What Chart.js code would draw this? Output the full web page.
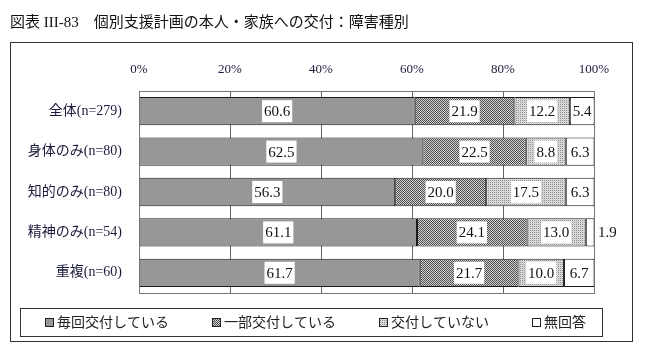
<!DOCTYPE html>
<html lang="ja">
<head>
<meta charset="utf-8">
<title>図表 III-83</title>
<script src="https://cdn.jsdelivr.net/npm/chart.js@4/dist/chart.umd.min.js"></script>
<style>
    body { margin: 0; background: #fff; }
    #wrap { position: relative; width: 647px; height: 353px; }
    #title {
        position: absolute; left: 10px; top: 10px;
        font: 15px "Liberation Serif", "Noto Sans CJK JP", serif;
        color: #111; white-space: pre;
    }
</style>
</head>
<body>
<div id="wrap">
    <canvas id="chart"></canvas>
    <div id="title">図表 III-83　個別支援計画の本人・家族への交付：障害種別</div>
</div>
<script>
const categories = ['全体(n=279)', '身体のみ(n=80)', '知的のみ(n=80)', '精神のみ(n=54)', '重複(n=60)'];
const seriesNames = ['毎回交付している', '一部交付している', '交付していない', '無回答'];
const everyTime = [60.6, 62.5, 56.3, 61.1, 61.7];
const partly = [21.9, 22.5, 20.0, 24.1, 21.7];
const notGiven = [12.2, 8.8, 17.5, 13.0, 10.0];
const noAnswer = [5.4, 6.3, 6.3, 1.9, 6.7];
const tickValues = [0, 20, 40, 60, 80, 100];

const serifFont = '"Liberation Serif", "Noto Sans CJK JP", serif';

// small stipple patterns like the original print fills
function makePattern(cells) {
    const n = cells.length;
    const c = document.createElement('canvas');
    c.width = n; c.height = n;
    const g = c.getContext('2d');
    for (let y = 0; y < n; y++) {
        for (let x = 0; x < n; x++) {
            g.fillStyle = cells[y][x];
            g.fillRect(x, y, 1, 1);
        }
    }
    return g.createPattern(c, 'repeat');
}

const checkerFill = makePattern([['#4e4e4e', '#d2d2d2'], ['#d2d2d2', '#4e4e4e']]);
const dotFill = makePattern([['#8e8e8e', '#dedede'], ['#dedede', '#d0d0d0']]);

// number labels on each segment, white box behind
const segmentLabels = {
    id: 'segmentLabels',
    afterDatasetsDraw(chart) {
        const ctx = chart.ctx;
        ctx.save();
        ctx.font = '15px ' + serifFont;
        ctx.textAlign = 'center';
        ctx.textBaseline = 'middle';
        chart.data.datasets.forEach((ds, i) => {
            chart.getDatasetMeta(i).data.forEach((bar, j) => {
                const txt = ds.data[j].toFixed(1);
                const w = ctx.measureText(txt).width;
                let cx = (bar.x + bar.base) / 2;
                if (Math.abs(bar.x - bar.base) < w + 4) {
                    cx = Math.min(bar.x, chart.chartArea.right) + 4 + w / 2;
                }
                ctx.fillStyle = '#fff';
                ctx.fillRect(cx - w / 2 - 2, bar.y - 11, w + 4, 22);
                ctx.fillStyle = '#111';
                ctx.fillText(txt, cx, bar.y + 1);
            });
        });
        ctx.restore();
    }
};

// outer frame, plot frame and boxed legend
const frames = {
    id: 'frames',
    beforeDraw(chart) {
        const ctx = chart.ctx;
        ctx.save();
        ctx.fillStyle = '#fff';
        ctx.fillRect(0, 0, chart.width, chart.height);
        ctx.strokeStyle = '#333';
        ctx.lineWidth = 1;
        ctx.strokeRect(10.5, 42.5, 622, 299);
        ctx.restore();
    },
    afterDatasetsDraw(chart) {
        const a = chart.chartArea;
        const ctx = chart.ctx;
        ctx.save();
        ctx.strokeStyle = '#777';
        ctx.lineWidth = 1;
        ctx.strokeRect(Math.round(a.left) + 0.5, Math.round(a.top) + 0.5,
            Math.round(a.right - a.left), Math.round(a.bottom - a.top));
        ctx.restore();
    },
    afterDraw(chart) {
        const ctx = chart.ctx;
        ctx.save();
        ctx.strokeStyle = '#333';
        ctx.lineWidth = 1;
        ctx.strokeRect(20.5, 308.5, 582, 28);
        ctx.font = '14px "Noto Sans CJK JP", sans-serif';
        ctx.textBaseline = 'middle';
        let x = 45;
        const y = 322;
        chart.data.datasets.forEach(ds => {
            ctx.fillStyle = ds.backgroundColor;
            ctx.fillRect(x, y - 4, 9, 9);
            ctx.strokeStyle = '#222';
            ctx.strokeRect(x + 0.5, y - 3.5, 8, 8);
            ctx.fillStyle = '#222';
            ctx.fillText(ds.label, x + 12, y);
            x += 12 + ctx.measureText(ds.label).width + 43;
        });
        ctx.restore();
    }
};

const fills = ['#979797', checkerFill, dotFill, '#ffffff'];
const values = [everyTime, partly, notGiven, noAnswer];

new Chart(document.getElementById('chart'), {
    type: 'bar',
    data: {
        labels: categories,
        datasets: seriesNames.map((name, i) => ({
            label: name,
            data: values[i],
            backgroundColor: fills[i],
            borderColor: '#1a1a1a',
            borderWidth: 1,
            borderSkipped: false,
            categoryPercentage: 1,
            barPercentage: 0.7
        }))
    },
    options: {
        indexAxis: 'y',
        responsive: true,
        maintainAspectRatio: false,
        animation: false,
        layout: { padding: { left: 0, top: 0, right: 53, bottom: 60 } },
        scales: {
            x: {
                position: 'top',
                stacked: true,
                min: 0,
                max: 100,
                afterBuildTicks: axis => { axis.ticks = tickValues.map(v => ({ value: v })); },
                afterFit: axis => { axis.height = 91; },
                grid: { color: '#666', drawTicks: false },
                border: { display: false },
                ticks: {
                    padding: 14,
                    color: '#1a1a3a',
                    font: { family: serifFont, size: 13 },
                    callback: v => v + '%'
                }
            },
            y: {
                stacked: true,
                afterFit: axis => { axis.width = 139; },
                grid: { display: false },
                border: { display: false },
                ticks: {
                    padding: 9,
                    color: '#1a1a3a',
                    font: { family: serifFont, size: 14 }
                }
            }
        },
        plugins: {
            legend: { display: false },
            tooltip: { enabled: false }
        }
    },
    plugins: [frames, segmentLabels]
});
</script>
</body>
</html>
